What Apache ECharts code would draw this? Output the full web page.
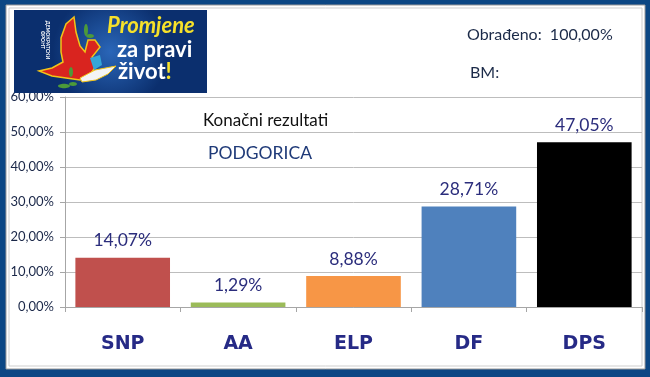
<!DOCTYPE html>
<html>
<head>
<meta charset="utf-8">
<script src="https://cdn.jsdelivr.net/npm/echarts@6/dist/echarts.min.js"></script>
<style>html,body{margin:0;padding:0;background:#fff}#c{width:650px;height:377px}</style>
</head>
<body>
<div id="c"></div>
<script>
var categories = ['SNP', 'AA', 'ELP', 'DF', 'DPS'];
var values = [14.07, 1.29, 8.88, 28.71, 47.05];
var barColors = ['#c0504d', '#9bbb59', '#f79646', '#4f81bd', '#000000'];
var yTicks = [0, 10, 20, 30, 40, 50, 60];

function pct(v) { return v.toFixed(2).replace('.', ',') + '%'; }

var chart = echarts.init(document.getElementById('c'), null, {renderer: 'canvas'});
var FONT = 'Lato, "Open Sans", sans-serif';

chart.setOption({
  animation: false,
  backgroundColor: '#0c4784',
  grid: {left: 65, right: 8, top: 97, bottom: 70, containLabel: false},
  xAxis: {
    type: 'category',
    data: categories,
    axisLine: {show: true, lineStyle: {color: '#a6a6a6', width: 1}},
    axisTick: {show: true, length: 5, lineStyle: {color: '#a6a6a6'}},
    axisLabel: {margin: 28, color: '#262a86', fontSize: 19, fontWeight: 900, fontFamily: '"DejaVu Sans", sans-serif'}
  },
  yAxis: {
    type: 'value',
    min: yTicks[0], max: yTicks[yTicks.length - 1], interval: 10,
    axisLine: {show: true, lineStyle: {color: '#a6a6a6'}},
    axisTick: {show: true, length: 5, lineStyle: {color: '#a6a6a6'}},
    splitLine: {show: true, lineStyle: {color: '#bdbdbd', width: 1}},
    axisLabel: {margin: 11, color: '#1a2748', fontSize: 13, fontFamily: FONT, formatter: function (v) { return pct(v); }}
  },
  series: [{
    type: 'bar',
    data: values.map(function (v, i) { return {value: v, itemStyle: {color: barColors[i]}}; }),
    barCategoryGap: '18%',
    label: {
      show: true, position: 'top', distance: 8,
      color: '#2b2d7c', fontSize: 17.5, fontFamily: FONT,
      formatter: function (p) { return pct(p.value); }
    }
  }],
  graphic: [
    {type: 'rect', z: -10, shape: {x: 6, y: 5, width: 639, height: 364}, style: {fill: '#ffffff', stroke: '#9a9a9a', lineWidth: 1}},
    {type: 'rect', z: -9, shape: {x: 9, y: 8, width: 633, height: 358}, style: {fill: '#ffffff', stroke: '#cfcfcf', lineWidth: 1}},
    // logo
    {type: 'rect', z: 5, shape: {x: 14, y: 10, width: 193, height: 83},
      style: {fill: {type: 'radial', x: 0.5, y: 0.5, r: 0.7, colorStops: [{offset: 0, color: '#2a66b8'}, {offset: 1, color: '#0b2f6e'}]}}},
    {type: 'polygon', z: 6, shape: {points: [[74,17],[66,24],[61,38],[61,52],[63,62],[52,68],[39,71],[52,76],[66,78],[80,80],[90,75],[96,66],[92,57],[100,47],[95,40],[88,40],[85,52],[80,46],[76,32]]},
      style: {fill: '#d9241f', stroke: '#f2c418', lineWidth: 1.5}},
    {type: 'polygon', z: 7, shape: {points: [[80,78],[95,70],[116,66],[108,74],[96,80],[82,82]]},
      style: {fill: '#f4f4f4', stroke: '#f2c418', lineWidth: 1}},
    {type: 'polygon', z: 7, shape: {points: [[90,58],[100,55],[102,65],[94,70]]}, style: {fill: '#35a6d8'}},
    {type: 'ellipse', z: 8, shape: {cx: 86, cy: 30, rx: 2, ry: 6}, style: {fill: '#4c9a3a'}},
    {type: 'ellipse', z: 8, shape: {cx: 90, cy: 36, rx: 4, ry: 2}, style: {fill: '#4c9a3a'}},
    {type: 'ellipse', z: 8, shape: {cx: 71, cy: 72, rx: 2, ry: 5}, style: {fill: '#4c9a3a'}},
    {type: 'ellipse', z: 8, shape: {cx: 64, cy: 86, rx: 6, ry: 2.2}, style: {fill: '#4c9a3a'}},
    {type: 'ellipse', z: 8, shape: {cx: 73, cy: 84, rx: 4, ry: 2}, style: {fill: '#4c9a3a'}},
    {type: 'text', z: 8, x: 45, y: 40, rotation: -Math.PI / 2, style: {text: 'ДЕМОКРАТСКИ\nФРОНТ', fill: '#ffffff', fontSize: 5, fontWeight: 'bold', fontFamily: FONT, align: 'center', verticalAlign: 'middle'}},
    {type: 'text', z: 8, x: 107, y: 26, style: {text: 'Promjene', fill: '#f6e12a', fontSize: 22, fontWeight: 'bold', fontStyle: 'italic', fontFamily: FONT, verticalAlign: 'middle'}},
    {type: 'text', z: 8, x: 117, y: 50, style: {text: 'za pravi', fill: '#ffffff', fontSize: 22, fontWeight: 'bold', fontFamily: FONT, verticalAlign: 'middle'}},
    {type: 'text', z: 8, x: 118, y: 72, style: {rich: {w: {fill: '#ffffff', fontSize: 22, fontWeight: 'bold', fontFamily: FONT}, y: {fill: '#f6e12a', fontSize: 22, fontWeight: 'bold', fontFamily: FONT}}, text: '{w|život}{y|!}', verticalAlign: 'middle'}},
    // texts
    {type: 'text', z: 8, x: 467, y: 35, style: {text: 'Obrađeno:  100,00%', fill: '#1b2a48', fontSize: 16, fontFamily: FONT, verticalAlign: 'middle'}},
    {type: 'text', z: 8, x: 470, y: 73, style: {text: 'BM:', fill: '#1b2a48', fontSize: 16, fontFamily: FONT, verticalAlign: 'middle'}},
    {type: 'text', z: 8, x: 203, y: 121, style: {text: 'Konačni rezultati', fill: '#111111', fontSize: 17, fontFamily: FONT, verticalAlign: 'middle'}},
    {type: 'text', z: 8, x: 208, y: 153, style: {text: 'PODGORICA', fill: '#1f3a78', fontSize: 17.5, fontFamily: FONT, verticalAlign: 'middle'}}
  ]
});
</script>
</body>
</html>
